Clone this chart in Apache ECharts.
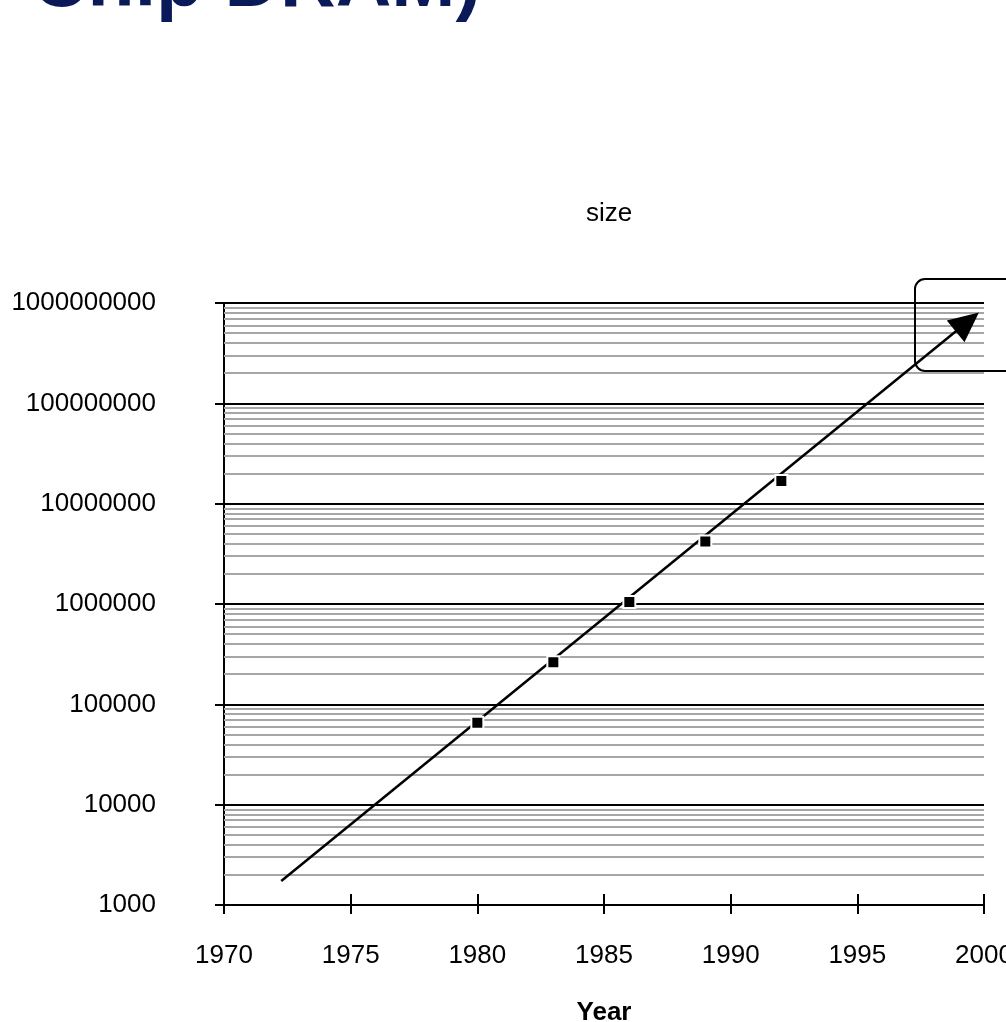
<!DOCTYPE html>
<html>
<head>
<meta charset="utf-8">
<script src="https://cdn.jsdelivr.net/npm/echarts@6/dist/echarts.min.js"></script>
<style>html,body{margin:0;padding:0;background:#fff;overflow:hidden}#c{width:1006px;height:1022px}</style>
</head>
<body>
<div id="c"></div>
<script>
// Data
const years = [1980, 1983, 1986, 1989, 1992];
const sizes = [65536, 262144, 1048576, 4194304, 16777216];
const trendStart = [1972.26, 1733];
const trendEnd = [1999.34, 6.47e8];
const xTicks = [1970, 1975, 1980, 1985, 1990, 1995, 2000];
const yTicks = [1000, 10000, 100000, 1000000, 10000000, 100000000, 1000000000];
const minorMultipliers = [2, 3, 4, 5, 6, 7, 8, 9];

const FONT = "'Liberation Sans', Arial, sans-serif";
const minorLines = [];
for (let i = 0; i < yTicks.length - 1; i++) {
  for (const m of minorMultipliers) minorLines.push({ yAxis: yTicks[i] * m });
}

const chart = echarts.init(document.getElementById('c'), null, { renderer: 'canvas' });
chart.setOption({
  animation: false,
  backgroundColor: '#ffffff',
  title: {
    text: 'size', left: 604, top: 196, textAlign: 'center',
    textStyle: { fontFamily: FONT, fontSize: 26, fontWeight: 'normal', color: '#000' }
  },
  grid: { left: 224, top: 303, width: 760, height: 602, containLabel: false, outerBoundsMode: 'none' },
  xAxis: [{
    type: 'value', min: xTicks[0], max: xTicks[xTicks.length - 1], interval: 5,
    name: 'Year', nameLocation: 'middle', nameGap: 95,
    nameTextStyle: { fontFamily: FONT, fontSize: 26, fontWeight: 'bold', color: '#000' },
    axisLine: { show: true, lineStyle: { color: '#000', width: 2 } },
    axisTick: { show: true, inside: false, length: 9, lineStyle: { color: '#000', width: 2 } },
    axisLabel: { margin: 38, fontFamily: FONT, fontSize: 26, color: '#000', formatter: v => String(v), hideOverlap: false },
    splitLine: { show: false }
  }, {
    type: 'value', min: xTicks[0], max: xTicks[xTicks.length - 1], interval: 5, position: 'bottom',
    axisLine: { show: false },
    axisTick: { show: true, inside: true, length: 11, lineStyle: { color: '#000', width: 2 } },
    axisLabel: { show: false },
    splitLine: { show: false }
  }],
  yAxis: {
    type: 'log', logBase: 10, min: yTicks[0], max: yTicks[yTicks.length - 1], splitNumber: 6,
    axisLine: { show: true, lineStyle: { color: '#000', width: 2 } },
    axisTick: { show: true, inside: false, length: 9, lineStyle: { color: '#000', width: 2 } },
    axisLabel: { margin: 68, fontFamily: FONT, fontSize: 26, color: '#000', formatter: v => String(Math.round(v)) },
    splitLine: { show: true, lineStyle: { color: '#000', width: 2 } },
    minorTick: { show: false }, minorSplitLine: { show: false }
  },
  series: [{
    type: 'line', data: [], silent: true, z: 1,
    markLine: {
      silent: true, symbol: ['none', 'none'], animation: false,
      label: { show: false },
      lineStyle: { color: '#a6a6a6', width: 2, type: 'solid' },
      data: minorLines
    }
  }, {
    type: 'line', data: [], silent: true, z: 4,
    markLine: {
      silent: true, symbol: ['none', 'triangle'], symbolSize: [28, 30], animation: false,
      label: { show: false },
      lineStyle: { color: '#000', width: 2.5, type: 'solid' },
      itemStyle: { color: '#000' },
      data: [[{ coord: trendStart }, { coord: trendEnd }]]
    }
  }, {
    type: 'scatter', z: 5, symbol: 'rect', symbolSize: 12,
    itemStyle: { color: '#000', borderColor: '#fff', borderWidth: 2, opacity: 1 },
    data: years.map((y, i) => [y, sizes[i]])
  }],
  graphic: [{
    type: 'text', left: 32, top: -54,
    style: { text: 'Chip DRAM)', fontFamily: FONT, fontSize: 77, fontWeight: 'bold', fill: '#0a1a58' }
  }, {
    type: 'rect', shape: { x: 915, y: 279, width: 130, height: 92, r: 10 },
    style: { fill: 'none', stroke: '#000', lineWidth: 2 }, z: 10
  }]
});
</script>
</body>
</html>
